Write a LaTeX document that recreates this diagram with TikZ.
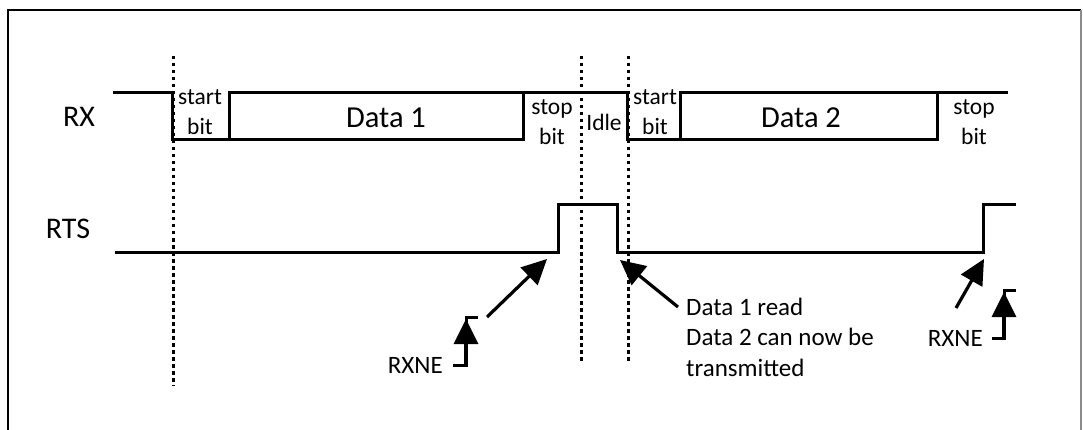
\documentclass[tikz,border=0pt]{standalone}
\usepackage{fontspec}
\setmainfont{Carlito}
\usetikzlibrary{arrows.meta}
\begin{document}
\begin{tikzpicture}[x=1pt,y=-1pt,
  wave/.style={line width=3pt,line join=miter},
  frameline/.style={line width=2.8pt},
  marker/.style={line width=3pt,dash pattern=on 3.5pt off 3.5pt},
  pointer/.style={line width=3.2pt,-{Triangle[length=25pt,width=24pt]}},
  edgesym/.style={line width=3pt},
  lbl/.style={inner sep=0pt,font=\fontsize{30}{32}\selectfont},
  big/.style={inner sep=0pt,font=\fontsize{30.5}{32}\selectfont},
  small/.style={inner sep=0pt,align=center,font=\fontsize{23.5}{30}\selectfont},
  note/.style={inner sep=0pt,align=left,font=\fontsize{25}{30.5}\selectfont},
  flag/.style={inner sep=0pt,font=\fontsize{25}{28}\selectfont}]
\useasboundingbox (0,0) rectangle (1083,430);
% frame
\draw[frameline] (8,430) -- (8,10) -- (1081,10);
\draw[line width=1.2pt,black!45] (1081,10) -- (1081,430);
% signal labels
\node[lbl] (rx) at (79,117) {RX};
\node[lbl] (rts) at (68,229) {RTS};
% RX waveform
\draw[wave] (113,93) -- (172,93) -- (172,140) -- (229,140);
\draw[wave] (229,93) rectangle (523,140);
\draw[wave] (523,93) -- (627,93) -- (627,140) -- (680,140);
\draw[wave] (680,93) rectangle (937,140);
\draw[wave] (937,93) -- (1008,93);
% RX texts
\node[small] (sb1) at (200,112) {start\\bit};
\node[big] (d1) at (386,118) {Data 1};
\node[small] (st1) at (552,122) {stop\\bit};
\node[small] (idle) at (604,122) {Idle};
\node[small] (sb2) at (655,112) {start\\bit};
\node[big] (d2) at (801,118) {Data 2};
\node[small] (st2) at (974,122) {stop\\bit};
% RTS waveform
\draw[wave] (115,252) -- (558,252) -- (558,205) -- (617,205) -- (617,252) -- (983,252) -- (983,205) -- (1016,205);
% dotted markers
\draw[marker] (173,56) -- (173,386);
\draw[marker] (581,56) -- (581,362);
\draw[marker] (628,56) -- (628,362);
% arrows
\coordinate (a1s) at (487,317);
\coordinate (a1e) at (547,259);
\draw[pointer] (a1s) -- (a1e);
\coordinate (a2s) at (678,307);
\coordinate (a2e) at (620,260);
\draw[pointer] (a2s) -- (a2e);
\coordinate (a3s) at (956,308);
\coordinate (a3e) at (984,259);
\draw[pointer] (a3s) -- (a3e);
% notes
\node[note,anchor=west] (n1) at (686,337) {Data 1 read\\Data 2 can now be\\transmitted};
\node[flag,anchor=east] (rxne1) at (443,365) {RXNE};
\node[flag,anchor=east] (rxne2) at (983,338) {RXNE};
% rising edge symbols
\coordinate (e1a) at (453,365);
\coordinate (e1b) at (466,365);
\coordinate (e1c) at (466,317);
\coordinate (e1d) at (478,317);
\draw[edgesym] (e1a) -- (e1b) -- (e1c) -- (e1d);
\draw[pointer] (e1b) -- (466,319);
\coordinate (e2a) at (992,338);
\coordinate (e2b) at (1004,338);
\coordinate (e2c) at (1004,290);
\coordinate (e2d) at (1016,290);
\draw[edgesym] (e2a) -- (e2b) -- (e2c) -- (e2d);
\draw[pointer] (e2b) -- (1004,292);
\end{tikzpicture}
\end{document}
